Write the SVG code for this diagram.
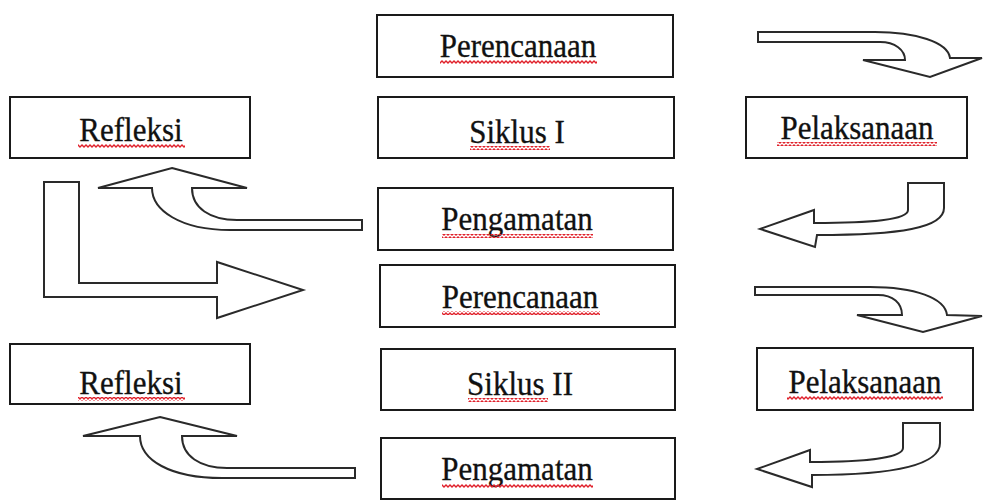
<svg xmlns="http://www.w3.org/2000/svg" width="983" height="500" viewBox="0 0 983 500">
  <style>
    .box { fill: #ffffff; stroke: #1a1a1a; stroke-width: 2; }
    .lbl { font-family: "Liberation Serif", "Times New Roman", serif; font-size: 31px; fill: #111111; stroke: #111111; stroke-width: 0.3; text-anchor: middle; }
    .arrow { fill: #ffffff; stroke: #2a2a2a; stroke-width: 2; stroke-linejoin: miter; }
    .wavy { fill: url(#squiggle); }
  </style>
  <defs>
    <!-- spell-check style red wavy underline -->
    <pattern id="squiggle" width="4" height="4" patternUnits="userSpaceOnUse">
      <path d="M-1,4 L2,1 L5,4" fill="none" stroke="#e0202a" stroke-width="1.4"/>
    </pattern>
  </defs>
  <rect width="983" height="500" fill="#ffffff"/>

  <!-- connectors: block arrows -->
  <g id="connectors">
    <path class="arrow" d="M758,32 L875,32 C915,32 948,42 950,58 L982,58 L930,77 L863,60 L905,60 C905,50 895,42 880,42 L758,42 Z"/>
    <path class="arrow" d="M908,183 L944,183 L944,208 C944,228 900,235 817,235 L815,247 L760,229 L814,210 L814,223 C870,223 908,220 908,210 Z"/>
    <path class="arrow" d="M172,168 L247,188 L192,188 C192,208 210,220 237,220 L362,220 L362,230 L230,230 C180,230 152,210 152,188 L98,188 Z"/>
    <path class="arrow" d="M44,182 L79,182 L79,283 L217,283 L217,262 L303,290 L217,318 L217,297 L44,297 Z"/>
    <path class="arrow" d="M755,287 L870,287 C915,287 945,298 947,315 L982,316 L923,332 L857,315 L902,315 C902,303 893,295 878,295 L755,295 Z"/>
    <path class="arrow" d="M903,423 L940,423 L940,443 C940,465 895,475 812,475 L812,487 L757,469 L810,450 L810,462 C865,462 903,458 903,448 Z"/>
    <path class="arrow" d="M160,417 L237,436 L182,436 C182,456 200,468 227,468 L355,468 L355,478 L222,478 C170,478 140,460 140,436 L83,436 Z"/>
  </g>

  <g id="perencanaan-1">
    <rect class="box" x="377" y="15" width="296" height="62"/>
    <text class="lbl" transform="translate(518 57) scale(1 1.12)">Perencanaan</text>
    <rect class="wavy" x="440" y="60" width="157" height="4"/>
  </g>
  <g id="siklus-1">
    <rect class="box" x="378" y="97" width="296" height="61"/>
    <text class="lbl" transform="translate(517 143) scale(1 1.12)">Siklus I</text>
    <rect class="wavy" x="470" y="146" width="80" height="4"/>
  </g>
  <g id="refleksi-1">
    <rect class="box" x="10" y="97" width="240" height="61"/>
    <text class="lbl" transform="translate(131 141) scale(1 1.12)">Refleksi</text>
    <rect class="wavy" x="78" y="144" width="107" height="4"/>
  </g>
  <g id="pelaksanaan-1">
    <rect class="box" x="746" y="97" width="221" height="61"/>
    <text class="lbl" transform="translate(857 139) scale(1 1.12)">Pelaksanaan</text>
    <rect class="wavy" x="777" y="142" width="160" height="4"/>
  </g>
  <g id="pengamatan-1">
    <rect class="box" x="378" y="188" width="295" height="62"/>
    <text class="lbl" transform="translate(517 230) scale(1 1.12)">Pengamatan</text>
    <rect class="wavy" x="442" y="234" width="151" height="4"/>
  </g>
  <g id="perencanaan-2">
    <rect class="box" x="380" y="265" width="295" height="62"/>
    <text class="lbl" transform="translate(520 308) scale(1 1.12)">Perencanaan</text>
    <rect class="wavy" x="442" y="311" width="158" height="4"/>
  </g>
  <g id="siklus-2">
    <rect class="box" x="381" y="349" width="294" height="61"/>
    <text class="lbl" transform="translate(520 395) scale(1 1.12)">Siklus II</text>
    <rect class="wavy" x="468" y="398" width="80" height="4"/>
  </g>
  <g id="refleksi-2">
    <rect class="box" x="10" y="344" width="240" height="60"/>
    <text class="lbl" transform="translate(131 394) scale(1 1.12)">Refleksi</text>
    <rect class="wavy" x="78" y="397" width="107" height="4"/>
  </g>
  <g id="pelaksanaan-2">
    <rect class="box" x="757" y="348" width="216" height="62"/>
    <text class="lbl" transform="translate(865 393) scale(1 1.12)">Pelaksanaan</text>
    <rect class="wavy" x="787" y="396" width="156" height="4"/>
  </g>
  <g id="pengamatan-2">
    <rect class="box" x="381" y="438" width="294" height="61"/>
    <text class="lbl" transform="translate(517 480) scale(1 1.12)">Pengamatan</text>
    <rect class="wavy" x="442" y="484" width="151" height="4"/>
  </g>
</svg>
